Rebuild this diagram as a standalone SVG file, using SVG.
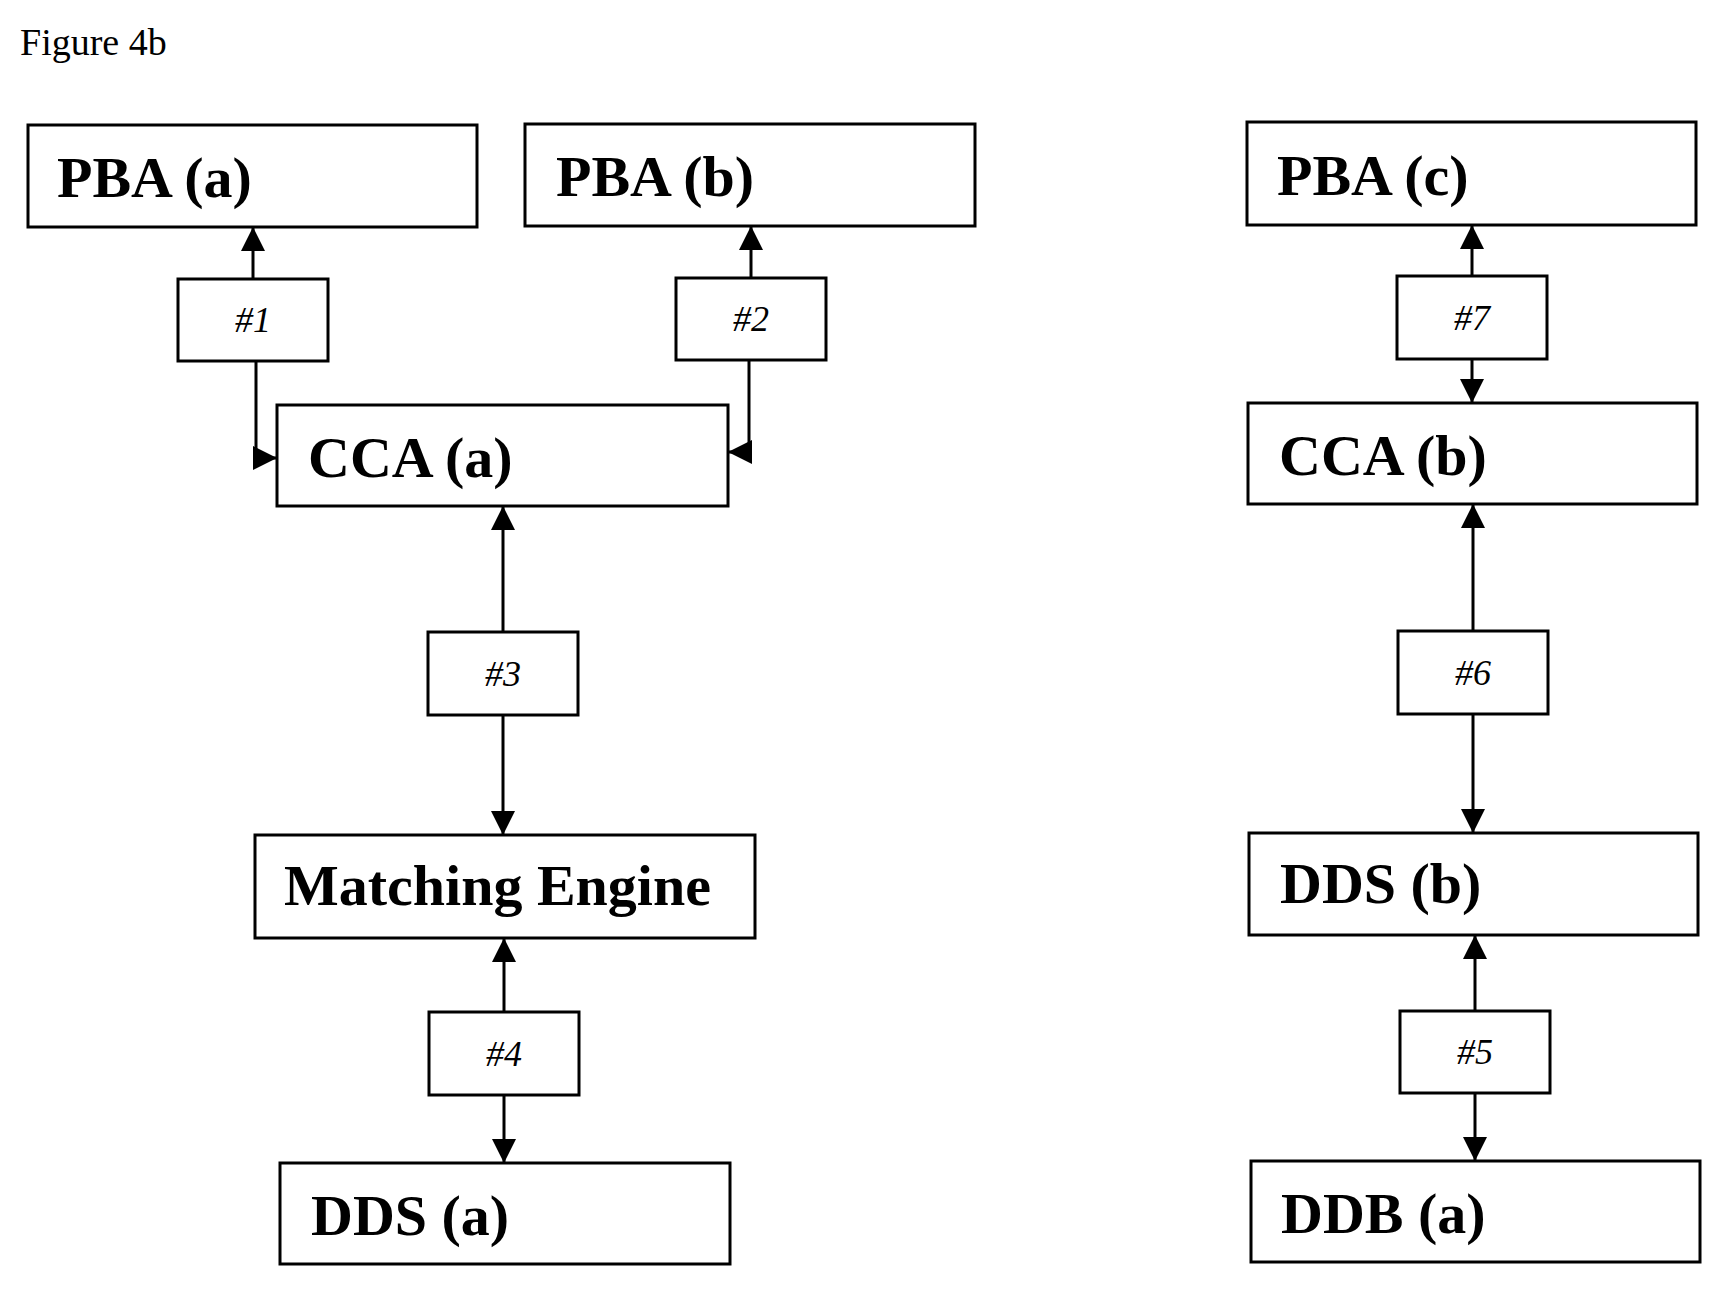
<svg xmlns="http://www.w3.org/2000/svg" width="1730" height="1301" viewBox="0 0 1730 1301">
<style>
rect{fill:#fff;stroke:#000;stroke-width:3}
.n{font-family:"Liberation Serif",serif;font-weight:bold;font-size:58px}
.h{font-family:"Liberation Serif",serif;font-style:italic;font-size:36px;text-anchor:middle}
.c{fill:none;stroke:#000;stroke-width:3}
</style>
<defs><marker id="a" viewBox="0 0 10 10" refX="10" refY="5" markerWidth="7" markerHeight="7" orient="auto" markerUnits="userSpaceOnUse" style="overflow:visible"><path d="M0,0L10,5L0,10z"/></marker>
<marker id="m" viewBox="0 0 10 10" refX="10" refY="5" markerWidth="8" markerHeight="8" orient="auto"><path d="M0,0L10,5L0,10z"/></marker></defs>
<rect width="1730" height="1301" style="stroke:none"/>
<text x="20" y="55" style="font-family:'Liberation Serif',serif;font-size:38px">Figure 4b</text>
<g id="connectors" class="c" marker-end="url(#m)">
<path d="M253,279V227"/>
<path d="M256,361V458H277"/>
<path d="M751,278V226"/>
<path d="M749,360V452H728"/>
<path d="M1472,276V225"/>
<path d="M1472,359V403"/>
<path d="M503,632V506"/>
<path d="M503,715V835"/>
<path d="M1473,631V504"/>
<path d="M1473,714V833"/>
<path d="M504,1012V938"/>
<path d="M504,1095V1163"/>
<path d="M1475,1011V935"/>
<path d="M1475,1093V1161"/>
</g>
<g id="pba-a"><rect x="28" y="125" width="449" height="102"/><text class="n" x="57" y="197">PBA (a)</text></g>
<g id="pba-b"><rect x="525" y="124" width="450" height="102"/><text class="n" x="556" y="196">PBA (b)</text></g>
<g id="pba-c"><rect x="1247" y="122" width="449" height="103"/><text class="n" x="1277" y="195">PBA (c)</text></g>
<g id="cca-a"><rect x="277" y="405" width="451" height="101"/><text class="n" x="308" y="477">CCA (a)</text></g>
<g id="cca-b"><rect x="1248" y="403" width="449" height="101"/><text class="n" x="1279" y="475">CCA (b)</text></g>
<g id="me"><rect x="255" y="835" width="500" height="103"/><text class="n" x="284" y="905">Matching Engine</text></g>
<g id="dds-b"><rect x="1249" y="833" width="449" height="102"/><text class="n" x="1280" y="903">DDS (b)</text></g>
<g id="dds-a"><rect x="280" y="1163" width="450" height="101"/><text class="n" x="311" y="1235">DDS (a)</text></g>
<g id="ddb-a"><rect x="1251" y="1161" width="449" height="101"/><text class="n" x="1281" y="1233">DDB (a)</text></g>
<g id="l1"><rect x="178" y="279" width="150" height="82"/><text class="h" x="253" y="332">#1</text></g>
<g id="l2"><rect x="676" y="278" width="150" height="82"/><text class="h" x="751" y="331">#2</text></g>
<g id="l7"><rect x="1397" y="276" width="150" height="83"/><text class="h" x="1472" y="330">#7</text></g>
<g id="l3"><rect x="428" y="632" width="150" height="83"/><text class="h" x="503" y="686">#3</text></g>
<g id="l6"><rect x="1398" y="631" width="150" height="83"/><text class="h" x="1473" y="685">#6</text></g>
<g id="l4"><rect x="429" y="1012" width="150" height="83"/><text class="h" x="504" y="1066">#4</text></g>
<g id="l5"><rect x="1400" y="1011" width="150" height="82"/><text class="h" x="1475" y="1064">#5</text></g>
</svg>
